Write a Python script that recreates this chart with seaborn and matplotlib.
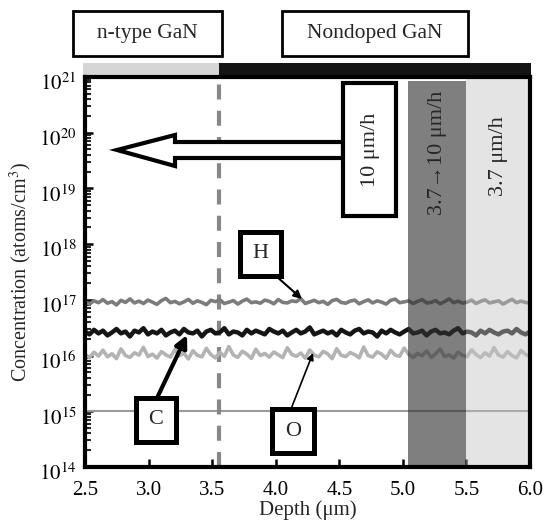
import numpy as np
import pandas as pd
import matplotlib
matplotlib.use("Agg")
import matplotlib.pyplot as plt
import seaborn as sns
from matplotlib.patches import Rectangle, Polygon
from matplotlib.ticker import FixedLocator, FixedFormatter, LogLocator, NullFormatter
from matplotlib.transforms import ScaledTranslation

# ---------------- data ----------------
DEPTH_START, DEPTH_END = 2.5, 6.0
SCALE = 1e16  # series values below are in units of 1e16 atoms/cm3

H_vals = [9.2, 8.4, 9.6, 8.9, 10.1, 8.7, 9.3, 8.1, 9.8, 9.0, 10.4, 8.8, 9.5, 8.6, 9.9, 9.1, 8.3, 9.7, 10.6, 8.9,
          9.4, 8.5, 9.2, 10.2, 8.7, 9.6, 9.0, 8.2, 9.8, 9.3, 10.0, 8.6, 9.1, 9.7, 8.4, 9.5, 10.3, 8.9, 9.2, 8.7,
          9.9, 9.4, 8.5, 10.1, 9.0, 8.8, 9.6, 9.3, 10.5, 8.6, 9.2, 9.8, 8.9, 9.4, 8.3, 9.7, 10.2, 9.0, 8.7, 9.5,
          9.9, 8.5, 9.3, 10.0, 8.8, 9.6, 9.1, 8.4, 9.8, 10.3, 8.9, 9.2, 9.6, 8.6, 9.4, 10.1, 8.8, 9.0, 9.7, 8.5,
          9.3, 10.4, 8.9, 9.5, 8.7, 9.1, 9.9, 8.6, 9.4, 10.0, 8.8, 9.2, 9.6, 8.4, 9.3, 10.2, 8.9, 9.5, 9.0, 8.7]
C_vals = [2.7, 2.4, 2.9, 2.5, 2.8, 2.3, 2.6, 3.0, 2.5, 2.7, 2.2, 2.8, 2.6, 3.1, 2.4, 2.7, 2.5, 2.9, 2.3, 2.6,
          2.8, 2.4, 3.0, 2.6, 2.5, 2.8, 2.2, 2.7, 2.9, 2.5, 2.6, 3.1, 2.4, 2.7, 2.6, 2.3, 2.9, 2.5, 2.8, 2.6,
          2.4, 3.0, 2.7, 2.5, 2.8, 2.3, 2.6, 2.9, 2.5, 2.7, 3.2, 2.4, 2.6, 2.8, 2.5, 2.7, 2.3, 2.9, 2.6, 2.4,
          2.8, 3.0, 2.5, 2.7, 2.6, 2.2, 2.8, 2.5, 2.9, 2.6, 2.4, 2.7, 3.0, 2.5, 2.6, 2.8, 2.3, 2.7, 2.9, 2.5,
          2.6, 2.4, 2.8, 3.1, 2.5, 2.7, 2.6, 2.3, 2.8, 2.5, 2.9, 2.6, 2.4, 2.7, 2.8, 2.5, 3.0, 2.6, 2.4, 2.7]
O_vals = [1.05, 0.92, 1.15, 0.98, 1.25, 0.95, 1.08, 0.88, 1.32, 1.00, 0.93, 1.12, 1.02, 1.40, 0.96, 1.06, 0.90,
          1.18, 1.03, 0.94, 1.28, 0.99, 1.10, 0.87, 1.22, 1.01, 0.95, 1.35, 1.04, 0.91, 1.14, 0.97, 1.45, 1.02,
          0.93, 1.20, 1.06, 0.89, 1.30, 1.00, 1.09, 0.94, 1.16, 1.03, 0.92, 1.38, 1.05, 0.97, 1.11, 0.90, 1.26,
          1.02, 0.95, 1.19, 1.07, 0.88, 1.33, 1.01, 0.96, 1.13, 1.04, 0.91, 1.42, 1.00, 0.94, 1.17, 1.06, 0.89,
          1.24, 1.02, 0.97, 1.36, 1.05, 0.92, 1.10, 0.99, 1.21, 0.93, 1.07, 1.31, 0.96, 1.03, 0.90, 1.15, 1.01,
          0.95, 1.27, 1.04, 0.92, 1.12, 0.98, 1.39, 1.02, 0.94, 1.18, 1.00, 0.91, 1.23, 1.05, 0.96]
DETECTION_LIMIT = 1e15
INTERFACE_DEPTH = 3.55
TRANSITION_REGION = (5.04, 5.5)
SLOW_REGION = (5.5, 6.0)

x_ticks = [2.5, 3.0, 3.5, 4.0, 4.5, 5.0, 5.5, 6.0]
x_tick_labels = ["2.5", "3.0", "3.5", "4.0", "4.5", "5.0", "5.5", "6.0"]
y_decades = [14, 15, 16, 17, 18, 19, 20, 21]
y_tick_labels = [r"$10^{%d}$" % d for d in y_decades]

# ---------------- style ----------------
sns.set_style("ticks")
plt.rcParams["font.family"] = ["Liberation Serif", "DejaVu Serif"]
plt.rcParams["mathtext.fontset"] = "stix"

W, H = 544, 525
fig = plt.figure(figsize=(W / 100, H / 100), dpi=100)
AX_L, AX_R, AX_T, AX_B = 85, 530, 77, 467
ax = fig.add_axes([AX_L / W, 1 - AX_B / H, (AX_R - AX_L) / W, (AX_B - AX_T) / H])


def frame(vals):
    d = np.linspace(DEPTH_START, DEPTH_END, len(vals))
    return pd.DataFrame({"depth": d, "conc": np.asarray(vals) * SCALE})


sns.lineplot(data=frame(H_vals), x="depth", y="conc", color="#7c7c7c", lw=2.6, ax=ax, zorder=3)
sns.lineplot(data=frame(O_vals), x="depth", y="conc", color="#b3b3b3", lw=2.6, ax=ax, zorder=3)
sns.lineplot(data=frame(C_vals), x="depth", y="conc", color="#151515", lw=3.2, ax=ax, zorder=3.2)

ax.set_yscale("log")
ax.set_xlim(DEPTH_START, DEPTH_END)
ax.set_ylim(10.0 ** y_decades[0], 10.0 ** y_decades[-1])

ax.axhline(DETECTION_LIMIT, color="#9a9a9a", lw=1.5, zorder=2)
ax.axvline(INTERFACE_DEPTH, color="#878787", lw=3, dashes=(3.6, 2.7), zorder=2.5)

# shaded growth-rate regions (drawn over the lines)
ax.axvspan(*TRANSITION_REGION, ymax=0.99, color="#313131", alpha=0.62, lw=0, zorder=4)
ax.axvspan(*SLOW_REGION, color="#c3c3c3", alpha=0.44, lw=0, zorder=4)

# layer bar above the axes
xt = ax.get_xaxis_transform()
ax.add_patch(Rectangle((DEPTH_START - 0.015, 1.003), INTERFACE_DEPTH - DEPTH_START + 0.015, 0.033,
                       transform=xt, color="#d6d6d6", lw=0, clip_on=False, zorder=1))
ax.add_patch(Rectangle((INTERFACE_DEPTH, 1.003), DEPTH_END - INTERFACE_DEPTH + 0.01, 0.033,
                       transform=xt, color="#141414", lw=0, clip_on=False, zorder=1))

# axes styling
for s in ax.spines.values():
    s.set_linewidth(3)
    s.set_color("black")
    s.set_zorder(7)

ax.xaxis.set_major_locator(FixedLocator(x_ticks))
ax.xaxis.set_major_formatter(FixedFormatter(x_tick_labels))
ax.yaxis.set_major_locator(FixedLocator([10.0 ** d for d in y_decades]))
ax.yaxis.set_major_formatter(FixedFormatter(y_tick_labels))
ax.yaxis.set_minor_locator(LogLocator(base=10, subs=range(2, 10), numticks=20))
ax.yaxis.set_minor_formatter(NullFormatter())
ax.tick_params(axis="both", which="major", direction="in", length=6, width=1.8,
               labelsize=15, colors="black")
ax.tick_params(axis="x", which="major", pad=10)
ax.tick_params(axis="y", which="minor", direction="in", length=4.5, width=1.5)
ax.tick_params(axis="y", which="major", pad=6)
ax.tick_params(top=False, right=False, which="both")

off = ScaledTranslation(0, -5 / 100, fig.dpi_scale_trans)
for lab in ax.get_yticklabels():
    lab.set_transform(lab.get_transform() + off)

ax.set_xlabel("Depth (μm)", fontsize=15, labelpad=0)
ax.set_ylabel("Concentration (atoms/cm$^{3}$)", fontsize=14.5, labelpad=4)


def px_ax(px, py):
    return ((px - AX_L) / (AX_R - AX_L), (AX_B - py) / (AX_B - AX_T))


def ax_box(x0, y0, x1, y1, lw):
    a = px_ax(x0, y1)
    b = px_ax(x1, y0)
    ax.add_patch(Rectangle(a, b[0] - a[0], b[1] - a[1], transform=ax.transAxes, facecolor="white",
                           edgecolor="black", lw=lw, zorder=6, clip_on=False))


# hollow arrow (toward the surface)
arrow_px = [(117, 150), (175, 135), (175, 142), (343, 142), (343, 158), (175, 158), (175, 166)]
ax.add_patch(Polygon([px_ax(*p) for p in arrow_px], closed=True, transform=ax.transAxes,
                     facecolor="white", edgecolor="black", lw=3, joinstyle="miter", zorder=5))

# "10 μm/h" box
ax_box(343, 83, 396, 216, 3)
ax.text(*px_ax(370, 150), "10 μm/h", transform=ax.transAxes, rotation=90, ha="center", va="center",
        fontsize=16, zorder=7)
ax.text(sum(TRANSITION_REGION) / 2, px_ax(0, 153)[1], "3.7→10 μm/h", transform=xt, rotation=90,
        ha="center", va="center", fontsize=16, zorder=7)
ax.text(5.75, px_ax(0, 156)[1], "3.7 μm/h", transform=xt, rotation=90, ha="center", va="center",
        fontsize=16, zorder=7)

# element labels with pointers
for name, (x0, y0, x1, y1), start, tip, lw, ms in [
    ("H", (240, 232, 281, 276), (276, 276), (302, 299), 1.5, 12),
    ("C", (136, 398, 176, 442), (157, 398), (187, 335), 3.0, 18),
    ("O", (272, 409, 314, 453), (291, 409), (313, 353), 1.2, 10),
]:
    ax.annotate("", xy=px_ax(*tip), xytext=px_ax(*start), xycoords="axes fraction",
                textcoords="axes fraction",
                arrowprops=dict(arrowstyle="-|>", color="black", lw=lw, mutation_scale=ms,
                                shrinkA=0, shrinkB=0), zorder=6)
    ax_box(x0, y0, x1, y1, 3.6)
    ax.text(*px_ax((x0 + x1) / 2, (y0 + y1) / 2), name, transform=ax.transAxes, ha="center",
            va="center", fontsize=16, zorder=7)

# layer labels above the plot
for label, (x0, y0, x1, y1) in [("n-type GaN", (73, 11, 222, 56)), ("Nondoped GaN", (282, 11, 468, 56))]:
    fig.add_artist(Rectangle((x0 / W, 1 - y1 / H), (x1 - x0) / W, (y1 - y0) / H, transform=fig.transFigure,
                             fill=False, edgecolor="black", lw=2))
    fig.text((x0 + x1) / 2 / W, 1 - (y0 + y1) / 2 / H, label, ha="center", va="center", fontsize=15.5)

fig.savefig("out.png", dpi=100)
